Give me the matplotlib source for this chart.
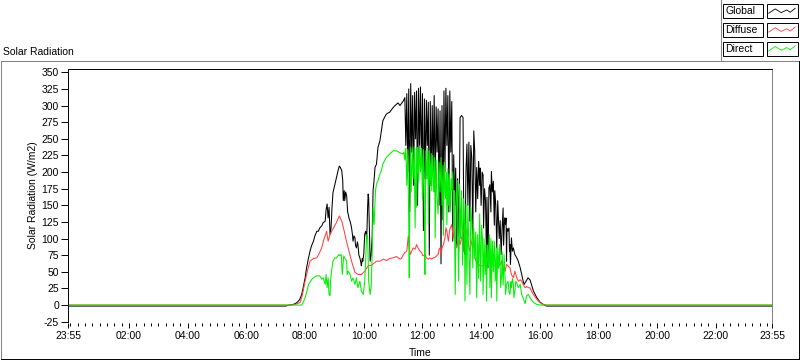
import matplotlib
matplotlib.use("Agg")
import matplotlib.pyplot as plt
from matplotlib.lines import Line2D
from matplotlib.patches import Rectangle
from matplotlib.ticker import FixedLocator

plt.rcParams['font.family'] = ['Liberation Sans', 'DejaVu Sans']
plt.rcParams['font.size'] = 7.5

# =========================
# Data (minutes from midnight, W/m2)
# record runs 23:55 (day before) -> 23:55
# =========================
t_start, t_end = -5, 1435
global_night = -1.5
diffuse_night = 0.0
direct_night = 0.0

global_pts = [
    ("07:20", -1.5), ("07:28", 0), ("07:36", 1), ("07:43", 3.5), ("07:49", 8.5),
    ("07:53", 16), ("07:56", 26), ("08:00", 41), ("08:03", 56), ("08:07", 71),
    ("08:10", 81), ("08:13", 89), ("08:17", 96), ("08:20", 104), ("08:24", 111),
    ("08:27", 111), ("08:30", 116), ("08:34", 119), ("08:37", 124), ("08:41", 126),
    ("08:43", 144), ("08:45", 152), ("08:47", 131), ("08:49", 147), ("08:51", 106),
    ("08:53", 116), ("08:55", 147), ("08:57", 169), ("09:01", 182), ("09:04", 192),
    ("09:08", 204), ("09:10", 209), ("09:12", 207), ("09:15", 202), ("09:17", 187),
    ("09:18", 157), ("09:20", 172), ("09:21", 157), ("09:23", 170), ("09:25", 164),
    ("09:27", 140), ("09:28", 137), ("09:30", 130), ("09:32", 126), ("09:34", 120),
    ("09:35", 116), ("09:37", 105), ("09:38", 96), ("09:40", 104), ("09:42", 101),
    ("09:43", 90), ("09:45", 86), ("09:47", 95), ("09:48", 91), ("09:50", 75),
    ("09:52", 71), ("09:54", 64), ("09:55", 59), ("09:57", 70), ("09:58", 66),
    ("10:00", 77), ("10:02", 107), ("10:04", 111), ("10:06", 100), ("10:08", 150),
    ("10:09", 167), ("10:10", 160), ("10:12", 95), ("10:13", 66), ("10:15", 75),
    ("10:17", 100), ("10:19", 172), ("10:21", 187), ("10:23", 207), ("10:26", 212),
    ("10:29", 237), ("10:33", 247), ("10:36", 262), ("10:39", 277), ("10:43", 283),
    ("10:46", 287), ("10:50", 289), ("10:53", 290), ("10:57", 294), ("11:00", 297),
    ("11:04", 300), ("11:07", 302), ("11:10", 304), ("11:14", 300), ("11:17", 303),
    ("11:21", 307), ("11:24", 312), ("11:26", 240), ("11:28", 318), ("11:30", 200),
    ("11:32", 325), ("11:34", 140), ("11:36", 333), ("11:38", 230), ("11:40", 315),
    ("11:42", 180), ("11:44", 320), ("11:46", 250), ("11:48", 322), ("11:50", 150),
    ("11:52", 326), ("11:54", 240), ("11:56", 328), ("11:58", 210), ("12:00", 318),
    ("12:02", 112), ("12:04", 310), ("12:06", 190), ("12:08", 308), ("12:10", 240),
    ("12:12", 305), ("12:14", 75), ("12:16", 306), ("12:18", 180), ("12:20", 300),
    ("12:22", 200), ("12:24", 315), ("12:26", 170), ("12:28", 298), ("12:30", 230),
    ("12:32", 295), ("12:34", 150), ("12:36", 292), ("12:38", 62), ("12:40", 300),
    ("12:42", 128), ("12:44", 322), ("12:46", 200), ("12:48", 326), ("12:50", 240),
    ("12:52", 315), ("12:54", 140), ("12:56", 322), ("12:58", 230), ("13:00", 306),
    ("13:02", 96), ("13:04", 226), ("13:06", 150), ("13:08", 206), ("13:10", 88),
    ("13:12", 190), ("13:14", 81), ("13:16", 200), ("13:17", 282), ("13:20", 285),
    ("13:23", 282), ("13:25", 81), ("13:27", 76), ("13:29", 200), ("13:31", 242),
    ("13:33", 150), ("13:35", 245), ("13:37", 126), ("13:39", 240), ("13:41", 221),
    ("13:43", 106), ("13:45", 262), ("13:47", 230), ("13:49", 140), ("13:51", 207),
    ("13:53", 160), ("13:55", 216), ("13:57", 180), ("13:58", 206), ("14:00", 150),
    ("14:02", 200), ("14:04", 196), ("14:05", 116), ("14:07", 175), ("14:09", 157),
    ("14:11", 71), ("14:12", 162), ("14:14", 56), ("14:16", 176), ("14:18", 181),
    ("14:20", 140), ("14:21", 201), ("14:23", 170), ("14:25", 186), ("14:27", 120),
    ("14:28", 172), ("14:30", 150), ("14:32", 86), ("14:34", 157), ("14:35", 137),
    ("14:37", 100), ("14:39", 127), ("14:41", 76), ("14:43", 116), ("14:45", 146),
    ("14:46", 90), ("14:48", 131), ("14:50", 121), ("14:51", 131), ("14:52", 66),
    ("14:53", 115), ("14:55", 111), ("14:57", 116), ("14:58", 81), ("14:59", 91),
    ("15:00", 61), ("15:02", 101), ("15:04", 81), ("15:06", 86), ("15:09", 76),
    ("15:13", 71), ("15:16", 66), ("15:20", 56), ("15:23", 46), ("15:26", 36),
    ("15:28", 31), ("15:32", 36), ("15:36", 41), ("15:40", 38), ("15:43", 31),
    ("15:47", 21), ("15:54", 11), ("16:01", 4), ("16:07", 1), ("16:14", -1.5),
]

diffuse_pts = [
    ("07:30", 0), ("07:40", 1), ("07:50", 4), ("07:54", 14), ("08:00", 36),
    ("08:05", 52), ("08:10", 66), ("08:17", 70), ("08:24", 71), ("08:29", 78),
    ("08:34", 86), ("08:38", 98), ("08:41", 104), ("08:44", 111), ("08:47", 96),
    ("08:51", 106), ("08:55", 112), ("08:58", 116), ("09:04", 124), ("09:10", 134),
    ("09:15", 126), ("09:20", 111), ("09:24", 98), ("09:28", 86), ("09:35", 66),
    ("09:42", 49), ("09:49", 46), ("09:55", 46), ("10:02", 51), ("10:09", 59),
    ("10:16", 60), ("10:26", 66), ("10:33", 66), ("10:40", 69), ("10:47", 67),
    ("10:53", 70), ("11:00", 71), ("11:07", 73), ("11:14", 69), ("11:17", 70),
    ("11:21", 76), ("11:24", 79), ("11:28", 81), ("11:31", 104), ("11:33", 86),
    ("11:35", 76), ("11:38", 81), ("11:41", 86), ("11:45", 84), ("11:48", 91),
    ("11:51", 86), ("11:55", 81), ("11:58", 79), ("12:01", 74), ("12:05", 76),
    ("12:08", 71), ("12:12", 69), ("12:15", 71), ("12:19", 69), ("12:22", 71),
    ("12:26", 72), ("12:29", 74), ("12:32", 76), ("12:34", 84), ("12:36", 86),
    ("12:38", 76), ("12:40", 86), ("12:43", 91), ("12:46", 101), ("12:48", 116),
    ("12:50", 111), ("12:53", 96), ("12:56", 114), ("13:00", 121), ("13:03", 101),
    ("13:05", 114), ("13:07", 96), ("13:10", 86), ("13:14", 101), ("13:17", 91),
    ("13:20", 101), ("13:24", 111), ("13:27", 121), ("13:31", 106), ("13:34", 91),
    ("13:37", 81), ("13:41", 96), ("13:44", 111), ("13:47", 71), ("13:51", 64),
    ("13:58", 59), ("14:04", 59), ("14:11", 61), ("14:14", 66), ("14:18", 71),
    ("14:21", 64), ("14:25", 61), ("14:32", 56), ("14:39", 61), ("14:42", 66),
    ("14:45", 54), ("14:49", 51), ("14:52", 61), ("14:55", 59), ("14:59", 56),
    ("15:02", 46), ("15:06", 41), ("15:09", 51), ("15:13", 41), ("15:16", 36),
    ("15:20", 38), ("15:23", 36), ("15:26", 31), ("15:30", 26), ("15:33", 28),
    ("15:37", 26), ("15:40", 26), ("15:43", 21), ("15:47", 16), ("15:54", 8.5),
    ("16:01", 3.5), ("16:07", 1), ("16:14", 0),
]

direct_pts = [
    ("07:53", 0), ("07:56", 4), ("08:00", 11), ("08:04", 22), ("08:07", 31),
    ("08:14", 39), ("08:19", 42), ("08:24", 44), ("08:30", 44), ("08:34", 39),
    ("08:37", 41), ("08:41", 31), ("08:43", 46), ("08:45", 26), ("08:47", 41),
    ("08:49", 16), ("08:51", 14), ("08:52", 36), ("08:54", 51), ("08:57", 66),
    ("09:01", 71), ("09:04", 71), ("09:09", 76), ("09:11", 74), ("09:14", 76),
    ("09:16", 46), ("09:19", 74), ("09:21", 71), ("09:25", 66), ("09:26", 46),
    ("09:28", 51), ("09:32", 46), ("09:35", 36), ("09:38", 41), ("09:42", 31),
    ("09:45", 41), ("09:48", 26), ("09:52", 36), ("09:55", 21), ("09:59", 16),
    ("10:02", 36), ("10:06", 106), ("10:08", 101), ("10:10", 36), ("10:13", 16),
    ("10:15", 26), ("10:17", 71), ("10:19", 147), ("10:21", 121), ("10:24", 172),
    ("10:26", 182), ("10:29", 187), ("10:33", 197), ("10:36", 202), ("10:39", 212),
    ("10:46", 222), ("10:53", 227), ("11:00", 232), ("11:07", 232), ("11:14", 229),
    ("11:20", 227), ("11:22", 230), ("11:24", 218), ("11:26", 236), ("11:28", 180),
    ("11:30", 234), ("11:32", 120), ("11:33", 41), ("11:35", 238), ("11:37", 170),
    ("11:39", 236), ("11:41", 190), ("11:43", 238), ("11:45", 116), ("11:47", 235),
    ("11:48", 147), ("11:50", 237), ("11:52", 185), ("11:54", 239), ("11:56", 200),
    ("11:58", 236), ("12:00", 160), ("12:02", 234), ("12:04", 120), ("12:05", 46),
    ("12:07", 232), ("12:09", 190), ("12:11", 236), ("12:12", 121), ("12:14", 232),
    ("12:16", 180), ("12:18", 228), ("12:19", 172), ("12:21", 225), ("12:23", 170),
    ("12:25", 222), ("12:26", 101), ("12:28", 218), ("12:30", 160), ("12:32", 137),
    ("12:34", 215), ("12:36", 170), ("12:38", 222), ("12:40", 150), ("12:42", 210),
    ("12:43", 105), ("12:45", 215), ("12:47", 160), ("12:49", 200), ("12:50", 121),
    ("12:52", 205), ("12:53", 150), ("12:55", 197), ("12:57", 140), ("12:59", 190),
    ("13:00", 172), ("13:02", 200), ("13:04", 120), ("13:05", 172), ("13:07", 16),
    ("13:09", 160), ("13:11", 187), ("13:13", 90), ("13:14", 36), ("13:16", 182),
    ("13:18", 100), ("13:20", 172), ("13:22", 60), ("13:24", 160), ("13:26", 120),
    ("13:27", 6), ("13:29", 152), ("13:31", 31), ("13:33", 150), ("13:35", 80),
    ("13:37", 16), ("13:39", 147), ("13:41", 126), ("13:43", 56), ("13:45", 116),
    ("13:47", 70), ("13:49", 110), ("13:51", 11), ("13:53", 106), ("13:55", 40),
    ("13:57", 137), ("13:59", 36), ("14:01", 120), ("14:03", 96), ("14:04", 16),
    ("14:06", 100), ("14:08", 46), ("14:10", 91), ("14:11", 6), ("14:13", 90),
    ("14:15", 60), ("14:17", 106), ("14:18", 26), ("14:20", 100), ("14:21", 11),
    ("14:23", 96), ("14:25", 50), ("14:27", 96), ("14:29", 36), ("14:31", 86),
    ("14:32", 6), ("14:34", 86), ("14:36", 55), ("14:38", 91), ("14:40", 26),
    ("14:42", 46), ("14:43", 80), ("14:45", 30), ("14:47", 76), ("14:49", 41),
    ("14:50", 16), ("14:52", 31), ("14:55", 36), ("14:57", 20), ("14:59", 16),
    ("15:01", 35), ("15:02", 26), ("15:04", 40), ("15:06", 31), ("15:07", 11),
    ("15:09", 21), ("15:11", 36), ("15:13", 33), ("15:16", 26), ("15:20", 31),
    ("15:23", 16), ("15:26", 11), ("15:30", 2), ("15:33", 14), ("15:37", 16),
    ("15:40", 11), ("15:47", 4), ("15:54", 1), ("16:01", 0),
]

series = [
    ("Global", global_pts, global_night, "black"),
    ("Diffuse", diffuse_pts, diffuse_night, "#ff4040"),
    ("Direct", direct_pts, direct_night, "#00f000"),
]

xtick_mins = [-5, 120, 240, 360, 480, 600, 720, 840, 960, 1080, 1200, 1320, 1435]
xtick_labels = ["23:55", "02:00", "04:00", "06:00", "08:00", "10:00", "12:00",
                "14:00", "16:00", "18:00", "20:00", "22:00", "23:55"]
yticks = list(range(-25, 351, 25))


def to_min(s):
    h, m = s.split(":")
    return int(h) * 60 + int(m)


# =========================
# Figure / axes (pixel layout of the original panel)
# =========================
W, H = 800, 361
LW = 0.7  # ~1 px for frames
DLW = 0.75  # data lines
fig = plt.figure(figsize=(W / 100, H / 100), dpi=100)
fig.patch.set_facecolor("white")


def fx(x):
    return x / W


def fy(y):
    return 1 - y / H


ax = fig.add_axes([fx(68), fy(321.7), (772 - 68) / W, (321.7 - 69.5) / H])

for name, pts, night, color in series:
    t = [t_start] + [to_min(p[0]) for p in pts] + [t_end]
    v = [night] + [p[1] for p in pts] + [night]
    ax.plot(t, v, color=color, lw=DLW, antialiased=True)

ax.set_xlim(t_start, t_end)
ax.set_ylim(-25, 354.2)

ax.xaxis.set_major_locator(FixedLocator(xtick_mins))
ax.set_xticklabels(xtick_labels)
ax.xaxis.set_minor_locator(FixedLocator(list(range(0, 1436, 15))))
ax.set_yticks(yticks)
ax.set_yticklabels([str(v) for v in yticks])

ax.tick_params(axis="x", which="major", direction="out", length=3.8, width=LW, pad=1.5)
ax.tick_params(axis="x", which="minor", direction="out", length=2.5, width=LW)
ax.tick_params(axis="y", which="major", direction="out", length=5, width=LW, pad=1.5)

ax.spines["bottom"].set_position(("outward", 1.2))
ax.spines["bottom"].set_visible(False)
ax.spines["top"].set_color("black")
ax.spines["left"].set_color("black")
ax.spines["right"].set_color("#808080")
for s in ax.spines.values():
    s.set_linewidth(LW)

fig.text(fx(33), fy(195.6), "Solar Radiation (W/m2)", rotation=90,
         ha="center", va="center")
fig.text(fx(420), fy(352.5), "Time", ha="center", va="center")
fig.text(fx(3), fy(52), "Solar Radiation", ha="left", va="center")

# outer panel frame
gray = "#808080"
fig.add_artist(Line2D([fx(1), fx(1)], [fy(61), fy(359)], color=gray, lw=LW))
fig.add_artist(Line2D([fx(1), fx(799)], [fy(61), fy(61)], color=gray, lw=LW))
fig.add_artist(Line2D([fx(799), fx(799)], [fy(61), fy(359)], color="black", lw=LW))
fig.add_artist(Line2D([fx(1), fx(799)], [fy(359), fy(359)], color="black", lw=LW))
fig.add_artist(Line2D([fx(721), fx(721)], [fy(0), fy(61)], color=gray, lw=LW))

# legend panel
zig_dx = [2, 8.5, 14.5, 20, 23.5, 28.5]
zig_dy = [2.1, -2.2, 1.5, -1.2, 1.1, -2.9]
for i, (name, pts, night, color) in enumerate(series):
    top = 4 + i * 18.8
    h = 14.3
    fig.add_artist(Rectangle((fx(723.3), fy(top + h)), 40 / W, h / H,
                             fill=False, edgecolor="black", lw=LW))
    fig.text(fx(725.5), fy(top + h / 2), name, ha="left", va="center")
    fig.add_artist(Rectangle((fx(766.7), fy(top + h)), 31 / W, h / H,
                             fill=False, edgecolor="black", lw=LW))
    fig.add_artist(Line2D([fx(766.7 + d) for d in zig_dx],
                          [fy(top + h / 2 + d) for d in zig_dy],
                          color=color, lw=0.6))

fig.savefig("out.png", dpi=100)
